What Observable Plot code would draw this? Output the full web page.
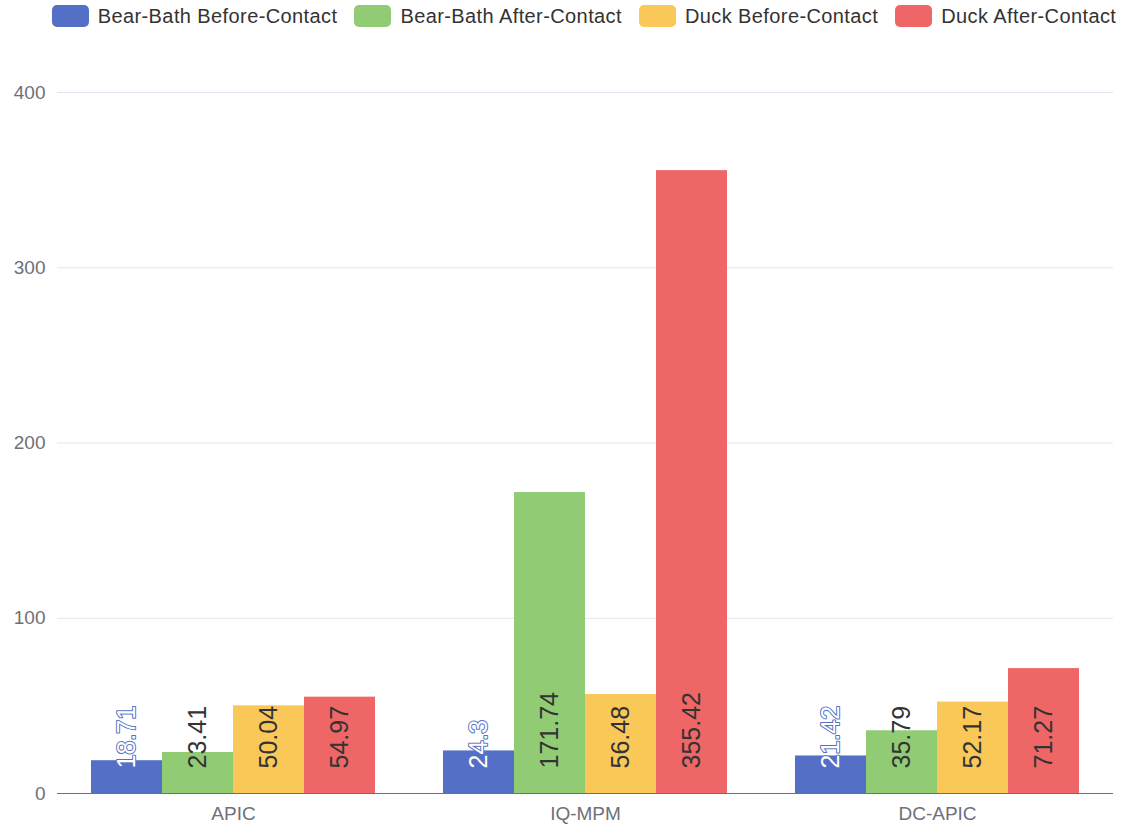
<!DOCTYPE html>
<html>
<head>
<meta charset="utf-8">
<script src="https://cdn.jsdelivr.net/npm/d3@7"></script>
<script src="https://cdn.jsdelivr.net/npm/@observablehq/plot@0.6"></script>
<style>
  html, body { margin: 0; padding: 0; background: #fff; }
  body { width: 1125px; font-family: "Liberation Sans", Arial, "Helvetica Neue", sans-serif; }
  #legend { height: 40px; display: flex; justify-content: center; align-items: flex-start; padding-top: 5px; padding-left: 43px; box-sizing: border-box; white-space: nowrap; }
  .item { display: flex; align-items: center; margin: 0 8.5px; font-size: 20px; letter-spacing: 0.4px; color: #333; line-height: 22px; }
  .swatch { width: 37px; height: 22px; border-radius: 5px; margin-right: 9px; }
  #chart svg { display: block; }
</style>
</head>
<body>
<div id="legend"></div>
<div id="chart"></div>
<script>
// Groups along the x axis
const categories = ["APIC", "IQ-MPM", "DC-APIC"];
// Series, in legend order
const seriesNames = ["Bear-Bath Before-Contact", "Bear-Bath After-Contact", "Duck Before-Contact", "Duck After-Contact"];
// Values per series, one per category
const bearBathBefore = [18.71, 24.3, 21.42];
const bearBathAfter = [23.41, 171.74, 35.79];
const duckBefore = [50.04, 56.48, 52.17];
const duckAfter = [54.97, 355.42, 71.27];
const seriesColors = ["#5470c6", "#91cc75", "#fac858", "#ee6666"];
const yTicks = [0, 100, 200, 300, 400];

const seriesValues = [bearBathBefore, bearBathAfter, duckBefore, duckAfter];
const rows = [];
seriesNames.forEach((s, i) => {
  categories.forEach((c, j) => rows.push({category: c, series: s, value: seriesValues[i][j]}));
});

// Legend
const legend = document.getElementById("legend");
seriesNames.forEach((s, i) => {
  const item = document.createElement("div");
  item.className = "item";
  const sw = document.createElement("div");
  sw.className = "swatch";
  sw.style.background = seriesColors[i];
  const label = document.createElement("span");
  label.textContent = s;
  item.append(sw, label);
  legend.append(item);
});

const font = "\"Liberation Sans\", Arial, sans-serif";
const fmt = v => String(v);

const chart = Plot.plot({
  width: 1125,
  height: 786,
  marginTop: 52,
  marginBottom: 33,
  marginLeft: 57,
  marginRight: 12,
  style: {fontFamily: font, fontSize: "19px", color: "#6E7079", background: "#fff"},
  fx: {domain: categories, padding: 0, label: null, tickSize: 0, tickPadding: 13},
  x: {domain: seriesNames, paddingInner: 0, paddingOuter: 0.4615, axis: null},
  y: {domain: [0, 400], ticks: yTicks, tickSize: 0, tickPadding: 12, label: null},
  color: {domain: seriesNames, range: seriesColors},
  marks: [
    Plot.ruleY(yTicks.filter(v => v > 0), {stroke: "#E0E6F1", strokeWidth: 1}),
    Plot.barY(rows, {fx: "category", x: "series", y: "value", fill: "series"}),
    Plot.ruleY([0], {stroke: "#6E7079", strokeWidth: 1}),
    Plot.text(rows.filter(d => d.series === seriesNames[0]), {
      fx: "category", x: "series", y: 0, text: d => fmt(d.value),
      rotate: -90, textAnchor: "start", dy: -25, fontSize: 25,
      fill: "#fff", stroke: seriesColors[0], strokeWidth: 2
    }),
    Plot.text(rows.filter(d => d.series !== seriesNames[0]), {
      fx: "category", x: "series", y: 0, text: d => fmt(d.value),
      rotate: -90, textAnchor: "start", dy: -25, fontSize: 25,
      fill: "#333"
    })
  ]
});
document.getElementById("chart").append(chart);
</script>
</body>
</html>
